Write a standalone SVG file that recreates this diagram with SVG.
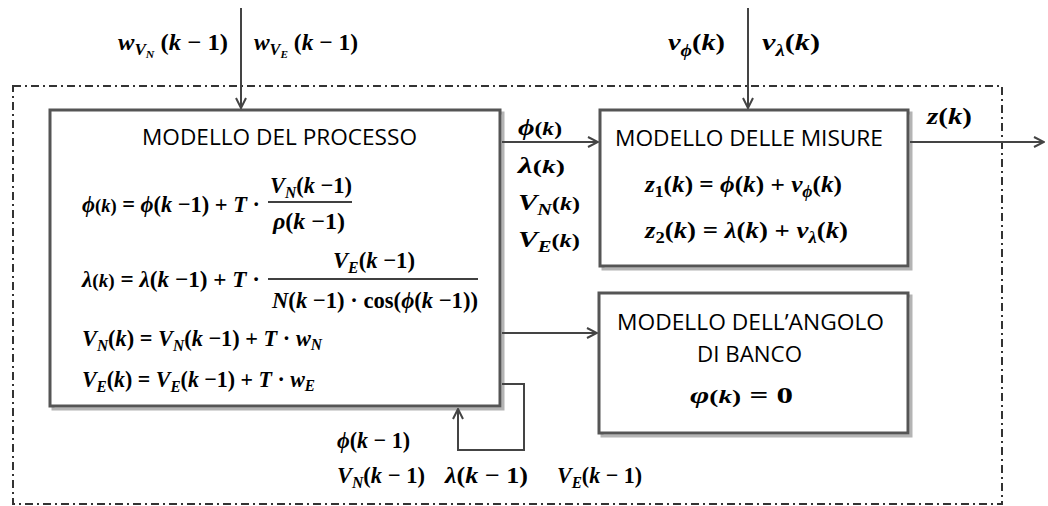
<svg xmlns="http://www.w3.org/2000/svg" width="1048" height="506" viewBox="0 0 1048 506">
  <defs>
    <marker id="arrow" viewBox="0 0 12 12" refX="11" refY="6" markerWidth="12" markerHeight="12" markerUnits="userSpaceOnUse" orient="auto">
      <path d="M1,1 L11,6 L1,11" fill="none" stroke="#444" stroke-width="2"/>
    </marker>
    <style>
      .m { font-family: "Liberation Serif", "Times New Roman", serif; font-weight: bold; font-size: 23px; fill: #000; }
      .i { font-style: italic; }
      .s { font-size: 16px; }
      .ss { font-size: 11px; }
      .sm { font-size: 19px; }
      .h { font-family: "Open Sans", "Liberation Sans", sans-serif; font-size: 21px; fill: #000; }
      .link { fill: none; stroke: #444; stroke-width: 2; }
      .box { fill: #fff; stroke: #555; stroke-width: 3; }
      .shadow { fill: none; stroke: #b4b4b4; stroke-width: 3; }
      .frame { fill: none; stroke: #333; stroke-width: 2; stroke-dasharray: 8 4 2 4; }
      .bar { stroke: #000; stroke-width: 1.5; }
    </style>
  </defs>

  <!-- system boundary -->
  <rect class="frame" x="13" y="86" width="989" height="418"/>

  <!-- process model -->
  <g id="process">
    <rect class="shadow" x="53" y="113" width="450" height="296"/>
    <rect class="box" x="50" y="110" width="450" height="296"/>
    <text class="h" x="142" y="145" textLength="275" lengthAdjust="spacingAndGlyphs">MODELLO DEL PROCESSO</text>

    <text class="m" x="82" y="212" textLength="178" lengthAdjust="spacingAndGlyphs"><tspan class="i">ϕ</tspan><tspan class="sm">(</tspan><tspan class="sm i">k</tspan><tspan class="sm">)</tspan> = <tspan class="i">ϕ</tspan>(<tspan class="i">k</tspan> −1) + <tspan class="i">T</tspan> ·</text>
    <text class="m" x="270" y="193" textLength="82" lengthAdjust="spacingAndGlyphs"><tspan class="i">V</tspan><tspan class="s i" dy="5">N</tspan><tspan dy="-5">(</tspan><tspan class="i">k</tspan> −1)</text>
    <line class="bar" x1="268" y1="202" x2="352" y2="202"/>
    <text class="m" x="273" y="229" textLength="72" lengthAdjust="spacingAndGlyphs"><tspan class="i">ρ</tspan>(<tspan class="i">k</tspan> −1)</text>

    <text class="m" x="82" y="287" textLength="178" lengthAdjust="spacingAndGlyphs"><tspan class="i">λ</tspan><tspan class="sm">(</tspan><tspan class="sm i">k</tspan><tspan class="sm">)</tspan> = <tspan class="i">λ</tspan>(<tspan class="i">k</tspan> −1) + <tspan class="i">T</tspan> ·</text>
    <text class="m" x="333" y="268" textLength="82" lengthAdjust="spacingAndGlyphs"><tspan class="i">V</tspan><tspan class="s i" dy="5">E</tspan><tspan dy="-5">(</tspan><tspan class="i">k</tspan> −1)</text>
    <line class="bar" x1="268" y1="279" x2="478" y2="279"/>
    <text class="m" x="272" y="308" textLength="206" lengthAdjust="spacingAndGlyphs"><tspan class="i">N</tspan>(<tspan class="i">k</tspan> −1) · cos(<tspan class="i">ϕ</tspan>(<tspan class="i">k</tspan> −1))</text>

    <text class="m" x="82" y="346" textLength="240" lengthAdjust="spacingAndGlyphs"><tspan class="i">V</tspan><tspan class="s i" dy="5">N</tspan><tspan dy="-5">(</tspan><tspan class="i">k</tspan>) = <tspan class="i">V</tspan><tspan class="s i" dy="5">N</tspan><tspan dy="-5">(</tspan><tspan class="i">k</tspan> −1) + <tspan class="i">T</tspan> · <tspan class="i">w</tspan><tspan class="s i" dy="4">N</tspan></text>
    <text class="m" x="82" y="387" textLength="233" lengthAdjust="spacingAndGlyphs"><tspan class="i">V</tspan><tspan class="s i" dy="5">E</tspan><tspan dy="-5">(</tspan><tspan class="i">k</tspan>) = <tspan class="i">V</tspan><tspan class="s i" dy="5">E</tspan><tspan dy="-5">(</tspan><tspan class="i">k</tspan> −1) + <tspan class="i">T</tspan> · <tspan class="i">w</tspan><tspan class="s i" dy="4">E</tspan></text>
  </g>

  <!-- measurement model -->
  <g id="measures">
    <rect class="shadow" x="603" y="113" width="308" height="156"/>
    <rect class="box" x="600" y="110" width="308" height="156"/>
    <text class="h" x="615" y="146" textLength="268" lengthAdjust="spacingAndGlyphs">MODELLO DELLE MISURE</text>
    <text class="m" x="645" y="192" textLength="197" lengthAdjust="spacingAndGlyphs"><tspan class="i">z</tspan><tspan class="s" dy="5">1</tspan><tspan dy="-5">(</tspan><tspan class="i">k</tspan>) = <tspan class="i">ϕ</tspan>(<tspan class="i">k</tspan>) + <tspan class="i">v</tspan><tspan class="s i" dy="5">ϕ</tspan><tspan dy="-5">(</tspan><tspan class="i">k</tspan>)</text>
    <text class="m" x="645" y="238" textLength="203" lengthAdjust="spacingAndGlyphs"><tspan class="i">z</tspan><tspan class="s" dy="5">2</tspan><tspan dy="-5">(</tspan><tspan class="i">k</tspan>) = <tspan class="i">λ</tspan>(<tspan class="i">k</tspan>) + <tspan class="i">v</tspan><tspan class="s i" dy="5">λ</tspan><tspan dy="-5">(</tspan><tspan class="i">k</tspan>)</text>
  </g>

  <!-- bank angle model -->
  <g id="bank-angle">
    <rect class="shadow" x="602" y="296" width="309" height="140"/>
    <rect class="box" x="599" y="293" width="309" height="140"/>
    <text class="h" x="617" y="330" textLength="267" lengthAdjust="spacingAndGlyphs">MODELLO DELL’ANGOLO</text>
    <text class="h" x="697" y="362" textLength="105" lengthAdjust="spacingAndGlyphs">DI BANCO</text>
    <text class="m" x="690" y="403" textLength="103" lengthAdjust="spacingAndGlyphs"><tspan class="i">φ</tspan><tspan class="sm">(</tspan><tspan class="sm i">k</tspan><tspan class="sm">)</tspan> = 0</text>
  </g>

  <!-- connectors -->
  <g id="connectors">
    <line class="link" x1="241" y1="8" x2="241" y2="108" marker-end="url(#arrow)"/>
    <line class="link" x1="748" y1="8" x2="748" y2="108" marker-end="url(#arrow)"/>
    <line class="link" x1="502" y1="142" x2="598" y2="142" marker-end="url(#arrow)"/>
    <line class="link" x1="502" y1="333" x2="597" y2="333" marker-end="url(#arrow)"/>
    <line class="link" x1="910" y1="142" x2="1044" y2="142" marker-end="url(#arrow)"/>
    <polyline class="link" points="502,384 524,384 524,450 458,450 458,409" marker-end="url(#arrow)"/>
  </g>

  <!-- signal labels -->
  <g id="labels">
    <text class="m" x="118" y="50" textLength="110" lengthAdjust="spacingAndGlyphs"><tspan class="i">w</tspan><tspan class="s i" dy="5">V</tspan><tspan class="ss i" dy="3">N</tspan><tspan dy="-8"> (</tspan><tspan class="i">k</tspan> − 1)</text>
    <text class="m" x="254" y="50" textLength="104" lengthAdjust="spacingAndGlyphs"><tspan class="i">w</tspan><tspan class="s i" dy="5">V</tspan><tspan class="ss i" dy="3">E</tspan><tspan dy="-8"> (</tspan><tspan class="i">k</tspan> − 1)</text>
    <text class="m" x="668" y="50" textLength="57" lengthAdjust="spacingAndGlyphs"><tspan class="i">v</tspan><tspan class="s i" dy="6">ϕ</tspan><tspan dy="-6">(</tspan><tspan class="i">k</tspan>)</text>
    <text class="m" x="762" y="50" textLength="58" lengthAdjust="spacingAndGlyphs"><tspan class="i">v</tspan><tspan class="s i" dy="6">λ</tspan><tspan dy="-6">(</tspan><tspan class="i">k</tspan>)</text>
    <text class="m" x="927" y="124" textLength="45" lengthAdjust="spacingAndGlyphs"><tspan class="i">z</tspan>(<tspan class="i">k</tspan>)</text>

    <text class="m" x="518" y="135" textLength="44" lengthAdjust="spacingAndGlyphs"><tspan class="i">ϕ</tspan><tspan class="sm">(</tspan><tspan class="sm i">k</tspan><tspan class="sm">)</tspan></text>
    <text class="m" x="518" y="173" textLength="47" lengthAdjust="spacingAndGlyphs"><tspan class="i">λ</tspan><tspan class="sm">(</tspan><tspan class="sm i">k</tspan><tspan class="sm">)</tspan></text>
    <text class="m" x="518" y="210" textLength="62" lengthAdjust="spacingAndGlyphs"><tspan class="i">V</tspan><tspan class="s i" dy="5">N</tspan><tspan class="sm" dy="-5">(</tspan><tspan class="sm i">k</tspan><tspan class="sm">)</tspan></text>
    <text class="m" x="518" y="247" textLength="62" lengthAdjust="spacingAndGlyphs"><tspan class="i">V</tspan><tspan class="s i" dy="5">E</tspan><tspan class="sm" dy="-5">(</tspan><tspan class="sm i">k</tspan><tspan class="sm">)</tspan></text>

    <text class="m" x="337" y="448" textLength="73" lengthAdjust="spacingAndGlyphs"><tspan class="i">ϕ</tspan>(<tspan class="i">k</tspan> − 1)</text>
    <text class="m" x="337" y="483" textLength="88" lengthAdjust="spacingAndGlyphs"><tspan class="i">V</tspan><tspan class="s i" dy="5">N</tspan><tspan dy="-5">(</tspan><tspan class="i">k</tspan> − 1)</text>
    <text class="m" x="445" y="483" textLength="83" lengthAdjust="spacingAndGlyphs"><tspan class="i">λ</tspan>(<tspan class="i">k</tspan> − 1)</text>
    <text class="m" x="557" y="483" textLength="85" lengthAdjust="spacingAndGlyphs"><tspan class="i">V</tspan><tspan class="s i" dy="5">E</tspan><tspan dy="-5">(</tspan><tspan class="i">k</tspan> − 1)</text>
  </g>
</svg>
